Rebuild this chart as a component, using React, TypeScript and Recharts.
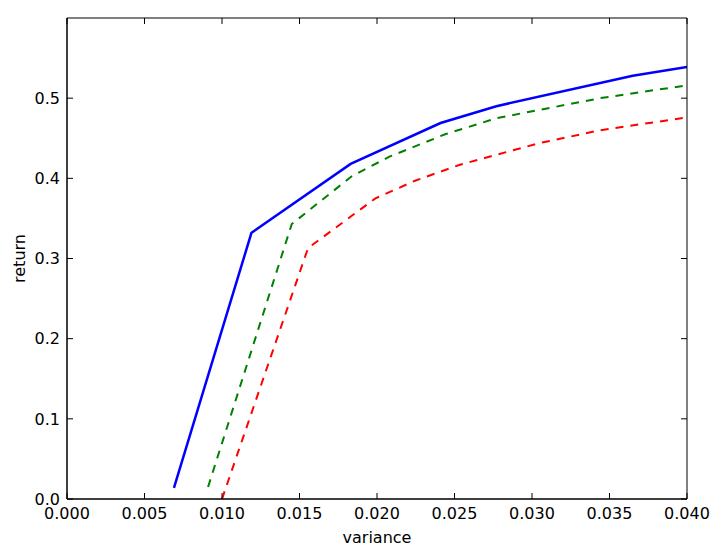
import { LineChart, Line, XAxis, YAxis } from 'recharts';

const xTicks = [0, 0.005, 0.01, 0.015, 0.02, 0.025, 0.03, 0.035, 0.04];
const yTicks = [0, 0.1, 0.2, 0.3, 0.4, 0.5];

const blueVariance = [0.0069, 0.0119, 0.0183, 0.0241, 0.0277, 0.0365, 0.04];
const blueReturn = [0.014, 0.332, 0.418, 0.469, 0.49, 0.528, 0.539];

const greenVariance = [0.0091, 0.0145, 0.0184, 0.0208, 0.0244, 0.0277, 0.0344, 0.04];
const greenReturn = [0.015, 0.343, 0.403, 0.427, 0.455, 0.475, 0.5, 0.516];

const redVariance = [0.01, 0.01555, 0.0199, 0.02245, 0.02535, 0.0305, 0.0344, 0.04];
const redReturn = [0.0, 0.313, 0.375, 0.397, 0.417, 0.444, 0.46, 0.476];

const zip = (xs: number[], ys: number[]) => xs.map((x, i) => ({ variance: x, ret: ys[i] }));

const blueData = zip(blueVariance, blueReturn);
const greenData = zip(greenVariance, greenReturn);
const redData = zip(redVariance, redReturn);

const tickStyle = { fontSize: 16, fill: '#000' };
const noLabel = () => <g />;

export default function App() {
  return (
    <div style={{ position: 'absolute', left: 0, top: 0 }}>
      <LineChart
        width={720}
        height={557}
        margin={{ top: 18, right: 33, left: 7, bottom: 8 }}
        style={{ fontFamily: 'DejaVu Sans', background: '#fff' }}
      >
        {/* labelled axes */}
        <XAxis
          dataKey="variance"
          type="number"
          domain={[0, 0.04]}
          ticks={xTicks}
          allowDataOverflow
          tickFormatter={(v: number) => v.toFixed(3)}
          tick={tickStyle}
          tickLine={false}
          tickSize={0}
          tickMargin={9}
          height={50}
          axisLine={{ stroke: '#000' }}
          label={{ value: 'variance', position: 'insideBottom', offset: 6, fontSize: 16, fill: '#000' }}
        />
        <YAxis
          type="number"
          domain={[0, 0.6]}
          ticks={yTicks}
          allowDataOverflow
          tickFormatter={(v: number) => v.toFixed(1)}
          tick={tickStyle}
          tickLine={false}
          tickSize={0}
          tickMargin={7}
          width={60}
          axisLine={{ stroke: '#000' }}
          label={{
            value: 'return',
            angle: -90,
            position: 'insideLeft',
            offset: 12,
            fontSize: 16,
            fill: '#000',
            style: { textAnchor: 'middle' },
          }}
        />

        {/* inward ticks on all four sides (same domains, used by the other series) */}
        <XAxis
          xAxisId="bottomTicks"
          dataKey="variance"
          orientation="bottom"
          mirror
          type="number"
          domain={[0, 0.04]}
          ticks={xTicks}
          allowDataOverflow
          tick={noLabel}
          tickLine={{ stroke: '#000' }}
          tickSize={6}
          height={1}
          stroke="#000"
        />
        <XAxis
          xAxisId="top"
          dataKey="variance"
          orientation="top"
          mirror
          type="number"
          domain={[0, 0.04]}
          ticks={xTicks}
          allowDataOverflow
          tick={noLabel}
          tickLine={{ stroke: '#000' }}
          tickSize={6}
          height={1}
          stroke="#000"
        />
        <YAxis
          yAxisId="leftTicks"
          orientation="left"
          mirror
          type="number"
          domain={[0, 0.6]}
          ticks={yTicks}
          allowDataOverflow
          tick={noLabel}
          tickLine={{ stroke: '#000' }}
          tickSize={6}
          width={1}
          stroke="#000"
        />
        <YAxis
          yAxisId="right"
          orientation="right"
          mirror
          type="number"
          domain={[0, 0.6]}
          ticks={yTicks}
          allowDataOverflow
          tick={noLabel}
          tickLine={{ stroke: '#000' }}
          tickSize={6}
          width={1}
          stroke="#000"
        />

        <Line
          data={blueData}
          dataKey="ret"
          type="linear"
          stroke="#0000ff"
          strokeWidth={2.5}
          dot={false}
          isAnimationActive={false}
        />
        <Line
          data={greenData}
          dataKey="ret"
          xAxisId="top"
          yAxisId="right"
          type="linear"
          stroke="#008000"
          strokeWidth={2}
          strokeDasharray="8 7"
          dot={false}
          isAnimationActive={false}
        />
        <Line
          data={redData}
          dataKey="ret"
          xAxisId="bottomTicks"
          yAxisId="leftTicks"
          type="linear"
          stroke="#ff0000"
          strokeWidth={2}
          strokeDasharray="8 7"
          dot={false}
          isAnimationActive={false}
        />
      </LineChart>
    </div>
  );
}
